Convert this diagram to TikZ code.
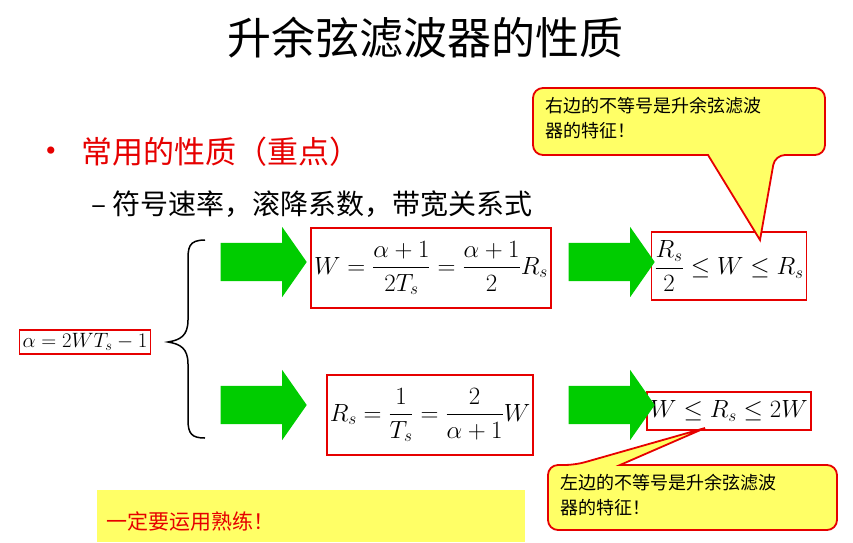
\documentclass[tikz,border=0pt]{standalone}
\usepackage{amsmath}
\usepackage{fontspec}
\setmainfont{Liberation Serif}
\newfontfamily\cjk{Noto Sans CJK SC}
\usetikzlibrary{shapes.arrows}
\definecolor{garrow}{RGB}{0,204,0}
\definecolor{note}{RGB}{255,255,102}
\definecolor{redline}{RGB}{230,0,0}
\tikzset{
  fbox/.style={draw=redline,line width=1.8pt,inner sep=3pt,font=\fontsize{24}{28}\selectfont},
  garrow/.style={single arrow,fill=garrow,draw=none,inner sep=19pt,
    single arrow head extend=16pt,single arrow tip angle=110,minimum height=86pt},
  callout/.style={draw=redline,line width=1.8pt,fill=note,rounded corners=10pt},
  calltext/.style={anchor=north west,align=left,font=\cjk\fontsize{18}{25}\selectfont}
}
\begin{document}
\begin{tikzpicture}[x=1pt,y=-1pt]
    \useasboundingbox (0,0) rectangle (853,542);

    \node (title) at (425,38) {\cjk\fontsize{44}{48}\selectfont 升余弦滤波器的性质};
    \node[text=redline,anchor=west] (dot) at (42,154) {\fontsize{30}{34}\selectfont •};
    \node[text=redline,anchor=west] (prop) at (78,152) {\cjk\fontsize{31}{36}\selectfont 常用的性质（重点）};
    \node[anchor=west] (sub) at (88,204) {\cjk\fontsize{28}{32}\selectfont – 符号速率，滚降系数，带宽关系式};

    % formula boxes
    \node[fbox,font=\fontsize{22}{26}\selectfont] (alpha) at (85,342) {$\alpha=2WT_s-1$};
    \node[fbox,minimum width=226pt,minimum height=80pt] (wf) at (431,268)
        {$W=\dfrac{\alpha+1}{2T_s}=\dfrac{\alpha+1}{2}R_s$};
    \node[fbox,minimum width=148pt,minimum height=68pt] (wr) at (729,266)
        {$\dfrac{R_s}{2}\le W\le R_s$};
    \node[fbox,minimum width=205pt,minimum height=80pt] (rf) at (430,415)
        {$R_s=\dfrac{1}{T_s}=\dfrac{2}{\alpha+1}W$};
    \node[fbox,minimum width=153pt,minimum height=38pt] (rw) at (729,411)
        {$W\le R_s\le 2W$};

    % brace
    \draw[line width=1.5pt] (205,240) .. controls (188,240) and (188,248) .. (188,262)
        -- (188,320) .. controls (188,336) and (180,340) .. (168,342)
        .. controls (180,344) and (188,348) .. (188,364)
        -- (188,420) .. controls (188,434) and (192,438) .. (205,438);

    % green arrows
    \node[garrow] (a1) at (257,262) {};
    \node[garrow] (a2) at (605,262) {};
    \node[garrow] (a3) at (257,405) {};
    \node[garrow] (a4) at (605,405) {};

    % callouts
    \draw[callout] (708,155) -- (533,155) -- (533,88) -- (825,88) -- (825,155) -- (775,155)
        [sharp corners] -- (760,240) -- cycle;
    \node[calltext] (c1) at (542,94) {右边的不等号是升余弦滤波\\器的特征！};
    \draw[callout] (620,465) -- (837,465) -- (837,530) -- (548,530) -- (548,465) -- (575,465)
        [sharp corners] -- (705,428) -- cycle;
    \node[calltext] (c2) at (557,471) {左边的不等号是升余弦滤波\\器的特征！};

    % bottom note
    \fill[note] (97,490) rectangle (525,542);
    \node[text=redline,anchor=west] (must) at (103,521) {\cjk\fontsize{21}{24}\selectfont 一定要运用熟练！};
\end{tikzpicture}
\end{document}
